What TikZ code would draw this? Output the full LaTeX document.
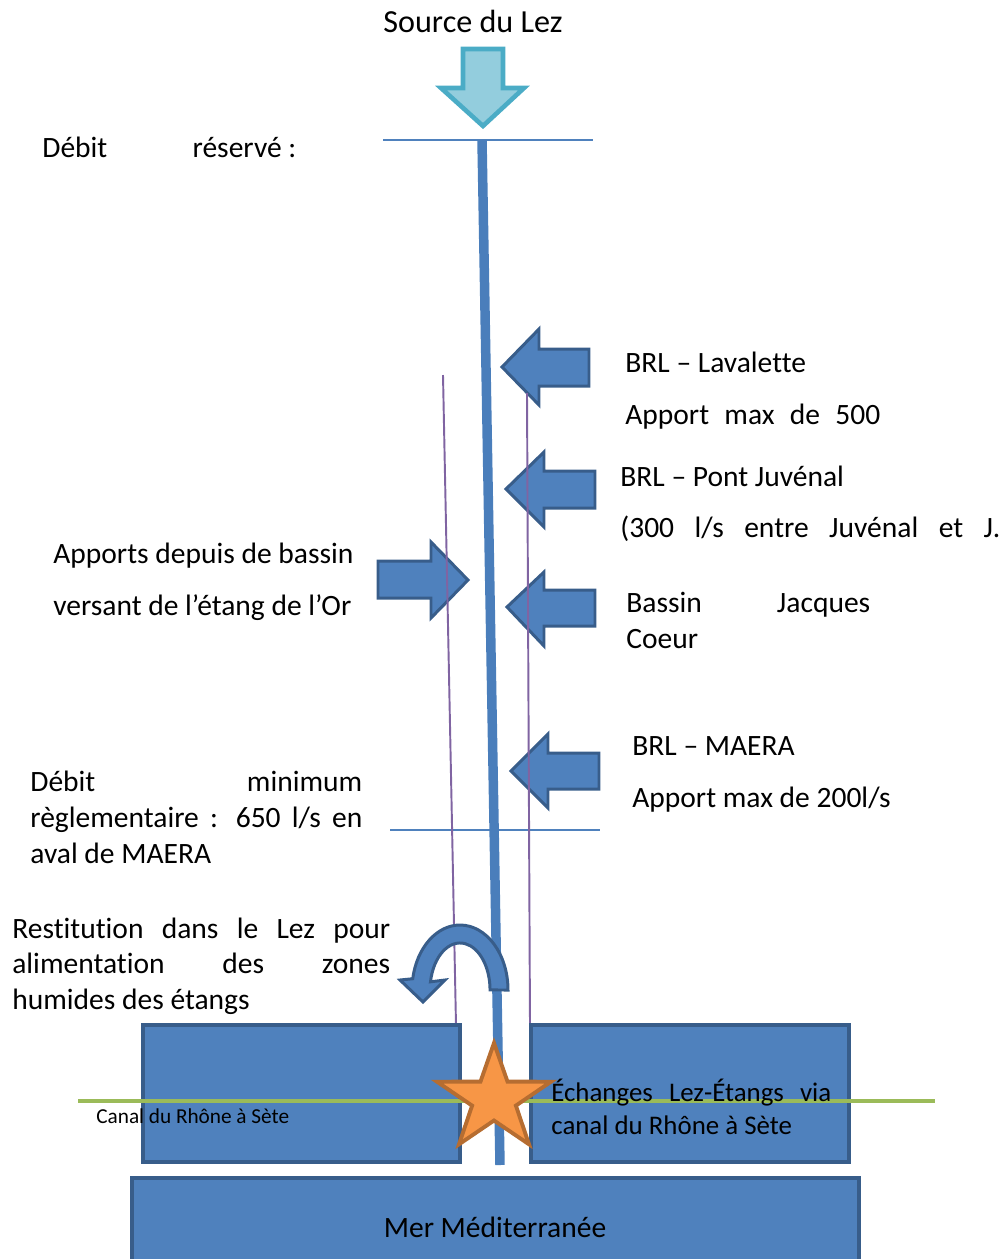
\documentclass[tikz,border=0pt]{standalone}
\usepackage{fontspec}
\setmainfont{Carlito}[Ligatures=NoCommon]
\definecolor{riverblue}{HTML}{4A7EBB}
\definecolor{boxfill}{HTML}{4F81BD}
\definecolor{boxline}{HTML}{385D8A}
\definecolor{cyanfill}{HTML}{93CDDD}
\definecolor{cyanline}{HTML}{4BACC6}
\definecolor{purpleline}{HTML}{8064A2}
\definecolor{greenline}{HTML}{9BBB59}
\definecolor{starfill}{HTML}{F79646}
\definecolor{starline}{HTML}{B66D31}
\begin{document}
\begin{tikzpicture}[x=0.02cm,y=0.02cm,
  txt/.style={anchor=base west,inner sep=0pt,font=\fontsize{16.8}{20}\selectfont},
  txtc/.style={anchor=base,inner sep=0pt,font=\fontsize{16.8}{20}\selectfont},
  midtxt/.style={anchor=base west,inner sep=0pt,font=\fontsize{15.3}{18}\selectfont},
  smalltxt/.style={anchor=base west,inner sep=0pt,font=\fontsize{12.1}{14}\selectfont},
  blockarrow/.style={fill=boxfill,draw=boxline,line width=1.7pt,line join=miter},
  sourcearrow/.style={fill=cyanfill,draw=cyanline,line width=2.6pt,line join=miter},
  thinline/.style={draw=boxfill,line width=0.9pt},
  limitline/.style={draw=purpleline,line width=1.1pt},
  river/.style={draw=riverblue,line width=5.4pt},
  basin/.style={fill=boxfill,draw=boxline,line width=2.2pt},
  canal/.style={draw=greenline,line width=2.8pt},
  starsty/.style={fill=starfill,draw=starline,line width=2.2pt,line join=miter}]
\useasboundingbox (0,0) rectangle (1000,-1259);

% source arrow
\path[sourcearrow] (463,-49) -- (503,-49) -- (503,-88) -- (524,-88) -- (483,-126) -- (441,-88) -- (463,-88) -- cycle;
\node[txtc,font=\fontsize{18.3}{22}\selectfont] (source) at (473,-32) {Source du Lez};

% horizontal reference lines
\draw[thinline] (383,-140) -- (593,-140);
\draw[thinline] (390,-830) -- (600,-830);

% river
\coordinate (rtop) at (482,-140);
\coordinate (rbot) at (500,-1165);
\draw[river] (rtop) -- (rbot);

% inflow arrows (pointing left)
\path[blockarrow] (502,-367) -- (539,-329) -- (539,-349) -- (589,-349) -- (589,-386) -- (539,-386) -- (539,-405) -- cycle;
\path[blockarrow] (506,-489) -- (544,-452) -- (544,-471) -- (595,-471) -- (595,-508) -- (544,-508) -- (544,-527) -- cycle;
\path[blockarrow] (507,-607) -- (544,-572) -- (544,-590) -- (595,-590) -- (595,-626) -- (544,-626) -- (544,-646) -- cycle;
\path[blockarrow] (511,-771) -- (548,-734) -- (548,-753) -- (599,-753) -- (599,-789) -- (548,-789) -- (548,-808) -- cycle;
% inflow arrow (pointing right)
\path[blockarrow] (468,-580) -- (431,-542) -- (431,-561) -- (378,-561) -- (378,-598) -- (431,-598) -- (431,-618) -- cycle;

% purple limit lines
\draw[limitline] (443,-375) -- (456,-1025);
\draw[limitline] (527,-393) -- (530,-1025);

% basins
\path[basin] (143,-1025) rectangle (460,-1162);
\path[basin] (531,-1025) rectangle (849,-1162);
\path[basin] (132,-1178) rectangle (859,-1270);
\node[txtc] (sea) at (495,-1237) {Mer Méditerranée};

% canal
\draw[canal] (78,-1101) -- (935,-1101);

% star
\path[starsty] (494,-1043) -- (480.5,-1081.6) -- (437,-1081.7) -- (472.1,-1105.6) -- (459,-1144.3) -- (494,-1120.5) -- (529,-1144.3) -- (515.9,-1105.6) -- (551,-1081.7) -- (507.5,-1081.6) -- cycle;

% curved restitution arrow
\path[blockarrow] (508,-990) arc[start angle=0,end angle=170,x radius=48,y radius=65] -- (400,-980) -- (423,-1002) -- (445,-980) -- (430.5,-981.8) arc[start angle=170,end angle=0,x radius=30,y radius=47] -- cycle;

% texts
\node[txt] (debitres) at (42,-157) {\makebox[5.08cm][s]{Débit \mbox{réservé :}}};
\node[txt] (lav1) at (625,-372) {BRL – Lavalette};
\node[txt] (lav2) at (625,-424) {\makebox[5.1cm][s]{Apport max de 500}};
\node[txt] (juv1) at (620,-486) {BRL – Pont Juvénal};
\node[txt] (juv2) at (620,-537) {\makebox[7.6cm][s]{(300 l/s entre Juvénal et J.}};
\node[txt] (jc1) at (626,-612) {\makebox[4.88cm][s]{Bassin Jacques}};
\node[txt] (jc2) at (626,-648) {Coeur};
\node[txt] (mae1) at (632,-755) {BRL – MAERA};
\node[txt] (mae2) at (632,-807) {Apport max de 200l/s};
\node[txt] (or1) at (53,-563) {Apports depuis de bassin};
\node[txt] (or2) at (53,-615) {versant de l’étang de l’Or};
\node[txt] (min1) at (30,-791) {\makebox[6.64cm][s]{Débit minimum}};
\node[txt] (min2) at (30,-827) {\makebox[6.64cm][s]{règlementaire : 650 l/s en}};
\node[txt] (min3) at (30,-863) {aval de MAERA};
\node[txt] (rest1) at (12,-938) {\makebox[7.56cm][s]{Restitution dans le Lez pour}};
\node[txt] (rest2) at (12,-973) {\makebox[7.56cm][s]{alimentation des zones}};
\node[txt] (rest3) at (12,-1009) {humides des étangs};
\node[smalltxt] (canallbl) at (96,-1123) {Canal du Rhône à Sète};
\node[midtxt] (ech1) at (551,-1101) {\makebox[5.6cm][s]{Échanges Lez-Étangs via}};
\node[midtxt] (ech2) at (551,-1134) {canal du Rhône à Sète};
\end{tikzpicture}
\end{document}
